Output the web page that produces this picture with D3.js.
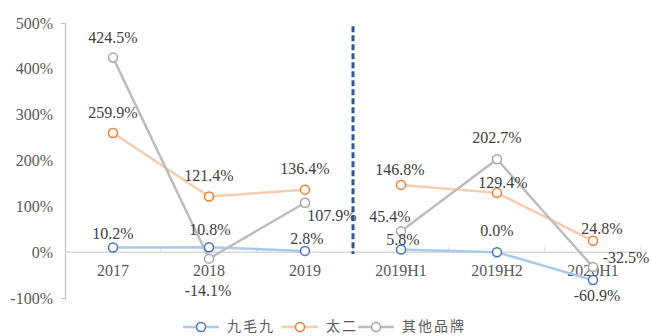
<!DOCTYPE html>
<html>
<head>
<meta charset="utf-8">
<script src="https://cdn.jsdelivr.net/npm/d3@7"></script>
<style>
  body { margin: 0; background: #fff; }
</style>
</head>
<body>
<div id="chart"></div>
<script>
// data
var categories = ["2017", "2018", "2019", "2019H1", "2019H2", "2020H1"]
var jiumaojiu = [10.2, 10.8, 2.8, 5.8, 0.0, -60.9]
var taier = [259.9, 121.4, 136.4, 146.8, 129.4, 24.8]
var others = [424.5, -14.1, 107.9, 45.4, 202.7, -32.5]
var seriesNames = ["九毛九", "太二", "其他品牌"]
var yTicks = [-100, 0, 100, 200, 300, 400, 500]

var width = 652, height = 336
var margin = {top: 23, right: 11, bottom: 38, left: 65}
var serif = "'Liberation Serif', 'Times New Roman', serif"

var svg = d3.select("#chart")
    .append("svg")
        .attr("width", width)
        .attr("height", height)

var x = d3.scaleBand()
    .domain(categories)
    .range([margin.left, width - margin.right])

var y = d3.scaleLinear()
    .domain([-100, 500])
    .range([height - margin.bottom, margin.top])

// y axis
var yAxis = svg.append("g")
    .attr("transform", "translate(" + margin.left + ",0)")
    .call(d3.axisLeft(y)
        .tickValues(yTicks)
        .tickSizeInner(0)
        .tickSizeOuter(4)
        .tickPadding(12)
        .tickFormat(d => d + "%"))
yAxis.select(".domain").attr("stroke", "#bfbfbf").attr("stroke-width", 1.2)
yAxis.selectAll("text")
    .attr("fill", "#595959")
    .style("font-family", serif)
    .style("font-size", "16px")

// zero line with category ticks
svg.append("line")
    .attr("x1", margin.left).attr("x2", width - margin.right)
    .attr("y1", y(0)).attr("y2", y(0))
    .attr("stroke", "#d9d9d9").attr("stroke-width", 1.5)
svg.append("g")
    .selectAll("line")
    .data(categories)
    .enter()
    .append("line")
        .attr("x1", d => x(d) + x.bandwidth())
        .attr("x2", d => x(d) + x.bandwidth())
        .attr("y1", y(0)).attr("y2", y(0) - 5)
        .attr("stroke", "#d9d9d9").attr("stroke-width", 1.2)

// category labels
svg.append("g")
    .selectAll("text")
    .data(categories)
    .enter()
    .append("text")
        .attr("x", d => x(d) + x.bandwidth() / 2)
        .attr("y", y(0) + 24)
        .attr("text-anchor", "middle")
        .attr("fill", "#595959")
        .style("font-family", serif)
        .style("font-size", "16px")
        .text(d => d)

// dashed divider between annual and half-year data
svg.append("line")
    .attr("x1", x("2019H1")).attr("x2", x("2019H1"))
    .attr("y1", y(493)).attr("y2", y(-4))
    .attr("stroke", "#2f5597")
    .attr("stroke-width", 3)
    .attr("stroke-dasharray", "6,3")

var series = [
    {name: seriesNames[0], values: jiumaojiu, line: "#a9cbe9", marker: "#4472c4"},
    {name: seriesNames[1], values: taier, line: "#f8cbad", marker: "#ed7d31"},
    {name: seriesNames[2], values: others, line: "#bdbdbd", marker: "#a5a5a5"}
]

var line = d3.line()
    .x(d => x(d.c) + x.bandwidth() / 2)
    .y(d => y(d.v))

// lines are broken between annual and half-year points
series.forEach(function(s) {
    var pts = s.values.map((v, i) => ({c: categories[i], v: v}))
    var parts = [pts.slice(0, 3), pts.slice(3)]
    svg.append("g")
        .selectAll("path")
        .data(parts)
        .enter()
        .append("path")
            .attr("d", line)
            .attr("fill", "none")
            .attr("stroke", s.line)
            .attr("stroke-width", 2.5)
})
series.forEach(function(s) {
    svg.append("g")
        .selectAll("circle")
        .data(s.values)
        .enter()
        .append("circle")
            .attr("cx", (d, i) => x(categories[i]) + x.bandwidth() / 2)
            .attr("cy", d => y(d))
            .attr("r", 4.5)
            .attr("fill", "#fff")
            .attr("stroke", s.marker)
            .attr("stroke-width", 1.5)
})

// data labels: offset [dx, dy] of the baseline relative to the point
var labelOffsets = [
    [[0, -8], [1, -12], [2, -7], [2, -5], [0, -16], [4, 21]],
    [[0, -15], [0, -16], [0, -16], [-1, -10], [6, -5], [9, -7]],
    [[0, -15], [-1, 37], [27, 18], [-11, -9], [0, -16], [33, -4]]
]
series.forEach(function(s, si) {
    svg.append("g")
        .selectAll("text")
        .data(s.values)
        .enter()
        .append("text")
            .attr("x", (d, i) => x(categories[i]) + x.bandwidth() / 2 + labelOffsets[si][i][0])
            .attr("y", (d, i) => y(d) + labelOffsets[si][i][1])
            .attr("text-anchor", "middle")
            .attr("fill", "#404040")
            .style("font-family", serif)
            .style("font-size", "16px")
            .text(d => d.toFixed(1) + "%")
})

// legend
var legendX = [183, 282, 358]
var legend = svg.append("g")
    .selectAll("g")
    .data(series)
    .enter()
    .append("g")
        .attr("transform", (d, i) => "translate(" + legendX[i] + "," + 327 + ")")
legend.append("line")
    .attr("x1", 0).attr("x2", 36)
    .attr("stroke", d => d.line)
    .attr("stroke-width", 2.5)
legend.append("circle")
    .attr("cx", 18).attr("r", 4.5)
    .attr("fill", "#fff")
    .attr("stroke", d => d.marker)
    .attr("stroke-width", 1.5)
legend.append("text")
    .attr("x", 44).attr("y", 4)
    .attr("fill", "#595959")
    .style("font-family", "'Noto Sans CJK SC', sans-serif")
    .style("font-size", "14px")
    .style("letter-spacing", "2px")
    .text(d => d.name)
</script>
</body>
</html>
